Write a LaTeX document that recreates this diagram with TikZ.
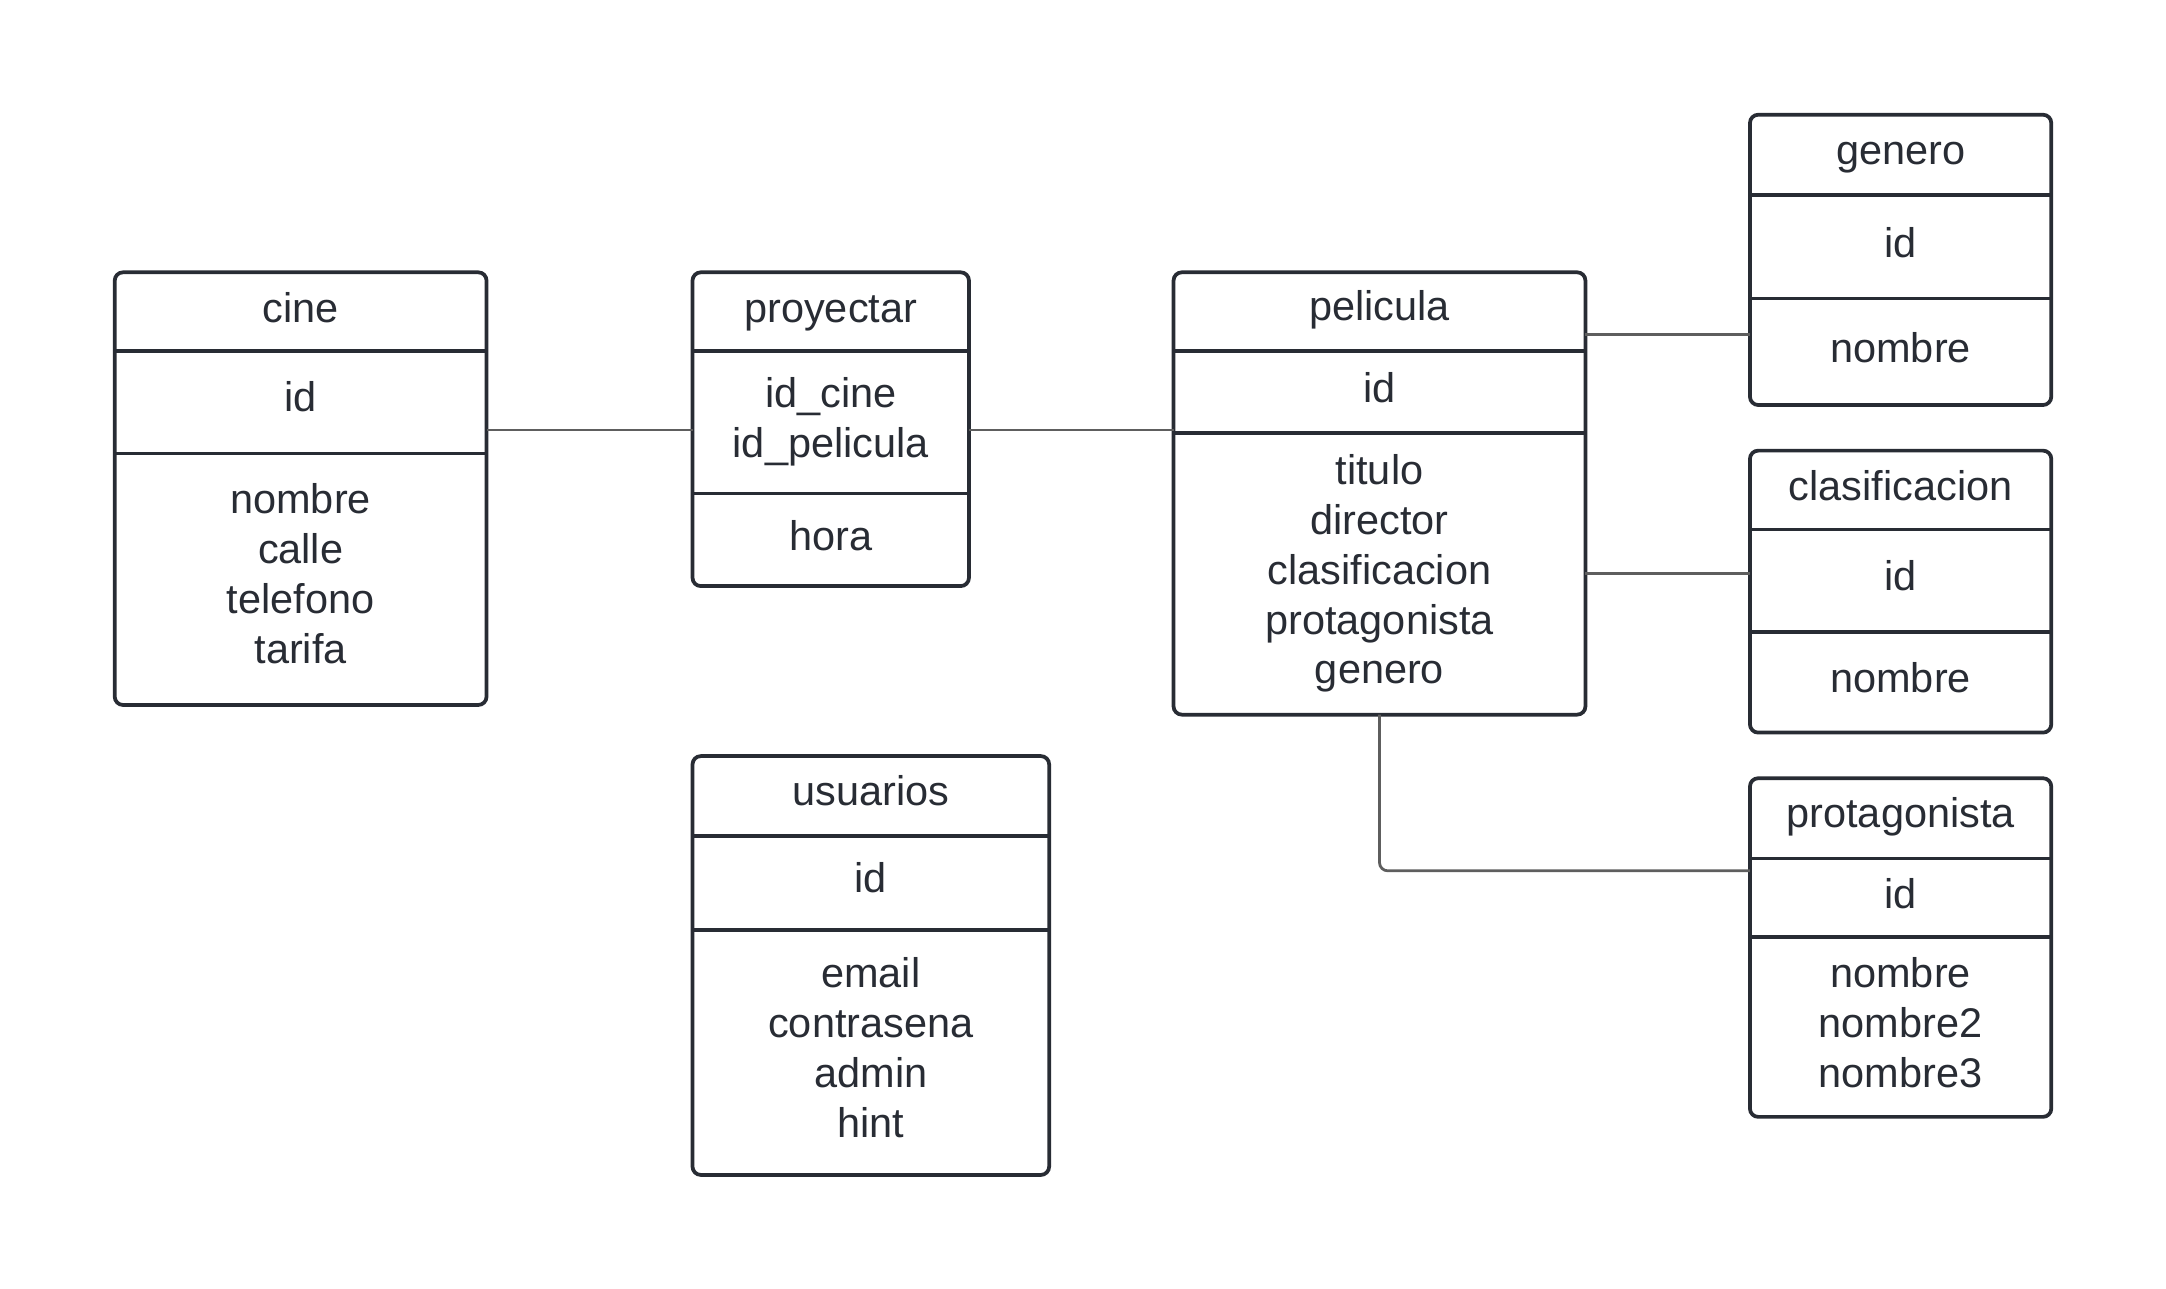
\documentclass[tikz,border=0pt]{standalone}
\usepackage{fontspec}
\setmainfont{Liberation Sans}
\usetikzlibrary{calc}
\definecolor{rahmen}{RGB}{40,44,52}
\definecolor{verbinder}{RGB}{94,94,94}

\begin{document}
\begin{tikzpicture}[x=1pt, y=-1pt,
    tabelle/.style={draw=rahmen, line width=2.7pt, rounded corners=6pt, anchor=north west, inner sep=0pt, outer sep=0pt},
    feld/.style={text=rahmen, font=\fontsize{30}{36}\selectfont, align=center, inner sep=0pt},
    zeile/.style={feld, text height=24pt, text depth=4pt},
    trenner/.style={draw=rahmen, line width=2.7pt},
    verbindung/.style={draw=verbinder, line width=2pt}]

    \useasboundingbox[fill=white] (0,0) rectangle (1567,932);

    % cine
    \node[tabelle, minimum width=269pt, minimum height=313pt] (cine) at (83,197) {};
    \draw[trenner] (cine.west |- 0,254) -- (cine.east |- 0,254);
    \draw[trenner] (cine.west |- 0,328) -- (cine.east |- 0,328);
    \node[zeile] (cine-kopf) at (cine.north |- 0,223) {cine};
    \node[zeile] (cine-id) at (cine.north |- 0,288) {id};
    \node[feld] (cine-attr) at (cine.north |- 0,415) {nombre\\calle\\telefono\\tarifa};

    % proyectar
    \node[tabelle, minimum width=200pt, minimum height=227pt] (proyectar) at (501,197) {};
    \draw[trenner] (proyectar.west |- 0,254) -- (proyectar.east |- 0,254);
    \draw[trenner] (proyectar.west |- 0,357) -- (proyectar.east |- 0,357);
    \node[zeile] (proyectar-kopf) at (proyectar.north |- 0,223) {proyectar};
    \node[feld] (proyectar-id) at (proyectar.north |- 0,305) {id\_cine\\id\_pelicula};
    \node[zeile] (proyectar-attr) at (proyectar.north |- 0,388) {hora};

    % pelicula
    \node[tabelle, minimum width=298pt, minimum height=320pt] (pelicula) at (849,197) {};
    \draw[trenner] (pelicula.west |- 0,254) -- (pelicula.east |- 0,254);
    \draw[trenner] (pelicula.west |- 0,313) -- (pelicula.east |- 0,313);
    \node[zeile] (pelicula-kopf) at (pelicula.north |- 0,222) {pelicula};
    \node[zeile] (pelicula-id) at (pelicula.north |- 0,281) {id};
    \node[feld] (pelicula-attr) at (pelicula.north |- 0,415) {titulo\\director\\clasificacion\\protagonista\\genero};

    % genero
    \node[tabelle, minimum width=218pt, minimum height=210pt] (genero) at (1266,83) {};
    \draw[trenner] (genero.west |- 0,141) -- (genero.east |- 0,141);
    \draw[trenner] (genero.west |- 0,216) -- (genero.east |- 0,216);
    \node[zeile] (genero-kopf) at (genero.north |- 0,109) {genero};
    \node[zeile] (genero-id) at (genero.north |- 0,176) {id};
    \node[zeile] (genero-attr) at (genero.north |- 0,252) {nombre};

    % clasificacion
    \node[tabelle, minimum width=218pt, minimum height=204pt] (clasificacion) at (1266,326) {};
    \draw[trenner] (clasificacion.west |- 0,383) -- (clasificacion.east |- 0,383);
    \draw[trenner] (clasificacion.west |- 0,457) -- (clasificacion.east |- 0,457);
    \node[zeile] (clasificacion-kopf) at (clasificacion.north |- 0,352) {clasificacion};
    \node[zeile] (clasificacion-id) at (clasificacion.north |- 0,417) {id};
    \node[zeile] (clasificacion-attr) at (clasificacion.north |- 0,491) {nombre};

    % protagonista
    \node[tabelle, minimum width=218pt, minimum height=245pt] (protagonista) at (1266,563) {};
    \draw[trenner] (protagonista.west |- 0,621) -- (protagonista.east |- 0,621);
    \draw[trenner] (protagonista.west |- 0,678) -- (protagonista.east |- 0,678);
    \node[zeile] (protagonista-kopf) at (protagonista.north |- 0,589) {protagonista};
    \node[zeile] (protagonista-id) at (protagonista.north |- 0,647) {id};
    \node[feld] (protagonista-attr) at (protagonista.north |- 0,740) {nombre\\nombre2\\nombre3};

    % usuarios
    \node[tabelle, minimum width=258pt, minimum height=303pt] (usuarios) at (501,547) {};
    \draw[trenner] (usuarios.west |- 0,605) -- (usuarios.east |- 0,605);
    \draw[trenner] (usuarios.west |- 0,673) -- (usuarios.east |- 0,673);
    \node[zeile] (usuarios-kopf) at (usuarios.north |- 0,573) {usuarios};
    \node[zeile] (usuarios-id) at (usuarios.north |- 0,636) {id};
    \node[feld] (usuarios-attr) at (usuarios.north |- 0,758) {email\\contrasena\\admin\\hint};

    % Verbindungen
    \draw[verbindung] (cine.east |- 0,311) -- (proyectar.west |- 0,311);
    \draw[verbindung] (proyectar.east |- 0,311) -- (pelicula.west |- 0,311);
    \draw[verbindung] (pelicula.east |- 0,242) -- (genero.west |- 0,242);
    \draw[verbindung] (pelicula.east |- 0,415) -- (clasificacion.west |- 0,415);
    \draw[verbindung, rounded corners=6pt] (pelicula.south) |- (protagonista.west |- 0,630);

\end{tikzpicture}
\end{document}
